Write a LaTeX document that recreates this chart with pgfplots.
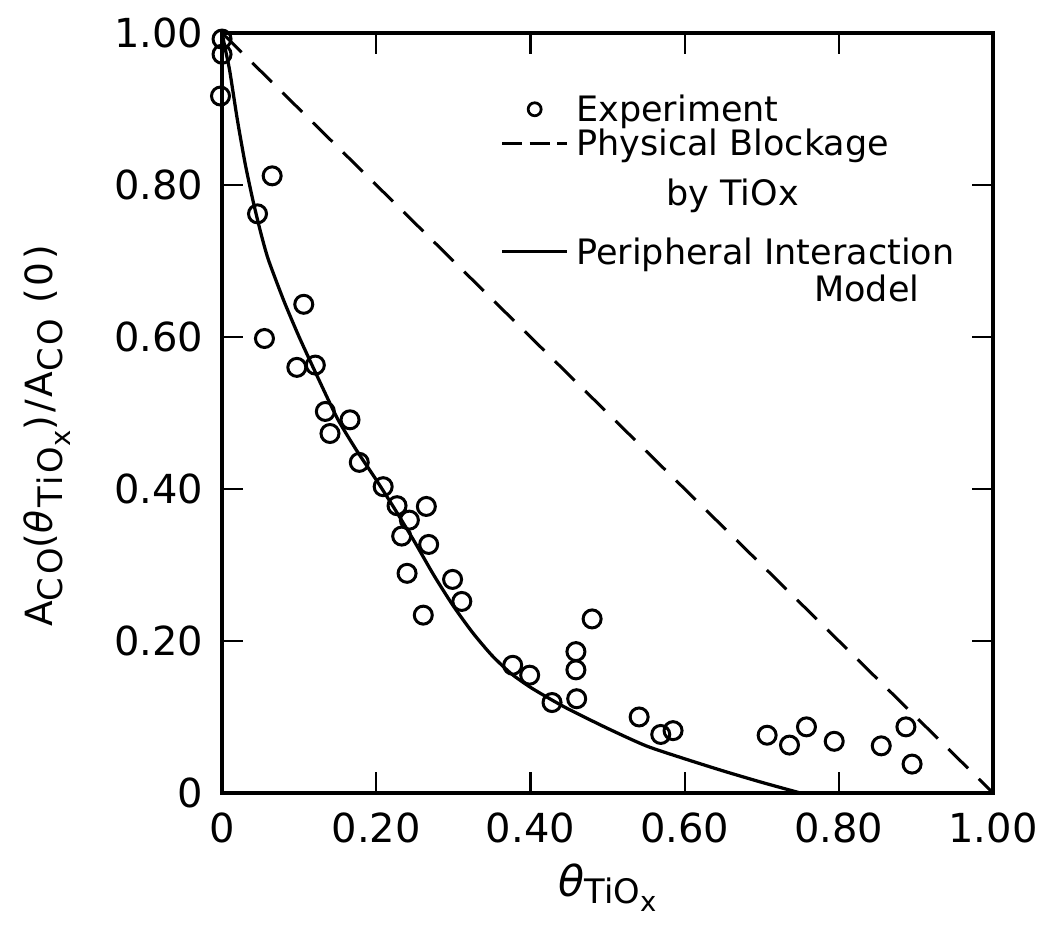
\documentclass[border=0pt]{standalone}
\usepackage{fontspec}
\setmainfont{DejaVu Sans}
\usepackage{calc}
\usepackage{pgfplots}
\pgfplotsset{compat=1.18}

% subscripts set nearly full size, as in the typewritten labels
\newcommand{\subA}[1]{\raisebox{-0.5ex}{\fontsize{13.5pt}{15pt}\selectfont #1}}
\newcommand{\subB}[1]{\raisebox{-0.45ex}{\fontsize{11pt}{13pt}\selectfont #1}}

\pgfplotstableread{
x      y
0.000  0.992
0.000  0.972
-0.002 0.917
0.065  0.812
0.046  0.762
0.106  0.643
0.055  0.598
0.097  0.560
0.121  0.563
0.134  0.502
0.166  0.491
0.140  0.473
0.178  0.435
0.209  0.403
0.227  0.378
0.265  0.377
0.243  0.359
0.233  0.338
0.268  0.327
0.240  0.289
0.299  0.281
0.311  0.252
0.261  0.234
0.377  0.168
0.399  0.155
0.428  0.119
0.459  0.186
0.459  0.162
0.460  0.124
0.480  0.229
0.541  0.100
0.569  0.077
0.585  0.082
0.707  0.076
0.736  0.063
0.758  0.087
0.794  0.068
0.855  0.062
0.887  0.087
0.895  0.038
}\experiment

\pgfplotstableread{
x      y
0.000  1.000
0.005  0.975
0.010  0.950
0.020  0.885
0.030  0.828
0.040  0.780
0.050  0.738
0.060  0.702
0.080  0.648
0.100  0.600
0.125  0.545
0.150  0.492
0.175  0.450
0.200  0.412
0.225  0.372
0.250  0.330
0.275  0.286
0.300  0.246
0.325  0.211
0.350  0.181
0.375  0.157
0.400  0.139
0.425  0.124
0.450  0.110
0.500  0.085
0.550  0.062
0.600  0.045
0.650  0.029
0.700  0.014
0.750  0.000
}\peripheral

\pgfplotstableread{
x     y
0.0   1.0
1.0   0.0
}\blockage

\begin{document}
\begin{tikzpicture}
\begin{axis}[
  scale only axis,
  width=308.4pt, height=304pt,
  xmin=0, xmax=1, ymin=0, ymax=1,
  clip=false,
  axis line style={line width=1.8pt},
  tick align=inside,
  major tick length=8.5pt,
  tick style={line width=0.9pt, black},
  xtick={0,0.2,0.4,0.6,0.8,1},
  xticklabels={0,0.20,0.40,0.60,0.80,1.00},
  ytick={0,0.2,0.4,0.6,0.8,1},
  yticklabels={0,0.20,0.40,0.60,0.80,1.00},
  tick label style={font=\fontsize{16pt}{19pt}\selectfont},
  /pgf/number format/assume math mode=true,
  xticklabel style={yshift=-4.5pt},
  yticklabel style={xshift=-4pt},
  every axis x label/.style={at={(rel axis cs:0.5,-0.125)}, anchor=center},
  every axis y label/.style={at={(rel axis cs:-0.227,0.47)}, anchor=center, rotate=90},
  xlabel={{\fontsize{17pt}{20pt}\selectfont\itshape θ}\subA{TiO\subB{x}}},
  ylabel={\fontsize{15pt}{18pt}\selectfont\addfontfeature{LetterSpace=8}%
    A\subA{CO}(\textit{θ}\subA{TiO\subB{x}})/A\subA{CO} (0)},
  legend image code/.code={%
    \draw[mark repeat=2, mark phase=2, #1]
      plot coordinates {(0pt,5pt) (13pt,5pt) (26pt,5pt)};},
  legend style={at={(rel axis cs:0.3606,0.9200)}, anchor=north west,
    draw=none, fill=none, inner sep=0pt, row sep=0pt, column sep=3pt,
    font=\fontsize{14pt}{17pt}\selectfont,
    nodes={inner sep=0pt, text depth=0pt},
    cells={anchor=base west}},
]
  \coordinate (bbsw) at (rel axis cs:-0.288,-0.1763);
  \coordinate (bbne) at (rel axis cs:1.0674,1.0434);

  % legend rows: the second line of each model name is a row of its own
  \addlegendimage{only marks, mark=o, mark size=2.6pt,
    mark options={line width=1.1pt, draw=black}}
  \addlegendentry{\rule{0pt}{11pt}Experiment}
  \addlegendimage{black, line width=1.2pt, dash pattern=on 8pt off 3pt}
  \addlegendentry{\rule{0pt}{13.5pt}Physical Blockage}
  \addlegendimage{empty legend}
  \addlegendentry{\rule{0pt}{20pt}\makebox[\widthof{Physical Blockage}]{by TiOx}}
  \addlegendimage{black, line width=1.3pt}
  \addlegendentry{\rule{0pt}{23.5pt}Peripheral Interaction}
  \addlegendimage{empty legend}
  \addlegendentry{\rule{0pt}{14.8pt}\makebox[\widthof{Peripheral Interaction}][r]{Model\hspace{14pt}}}

  \addplot[black, line width=1.2pt, dash pattern=on 11pt off 6pt, forget plot]
    table {\blockage};
  \addplot[black, line width=1.3pt, smooth, tension=0.4, forget plot]
    table {\peripheral};
  \addplot[only marks, mark=o, mark size=3.6pt, forget plot,
    mark options={line width=1.2pt, fill=white, draw=black}]
    table {\experiment};
\end{axis}
\pgfresetboundingbox
\path[use as bounding box] (bbsw) rectangle (bbne);
\end{tikzpicture}
\end{document}
